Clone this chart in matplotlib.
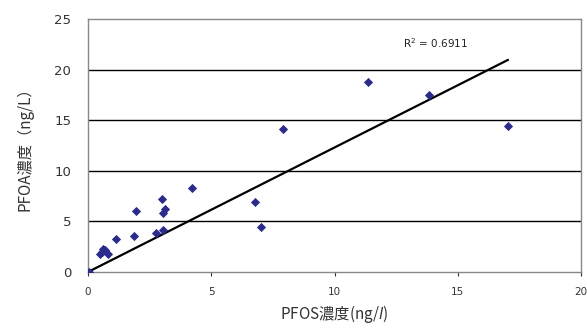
import matplotlib
matplotlib.use("Agg")
import matplotlib.pyplot as plt
import numpy as np

plt.rcParams['font.family'] = ['Noto Sans CJK JP', 'DejaVu Sans']

pfos = [0.05, 0.49, 0.58, 0.62, 0.69, 0.82, 1.14, 1.87, 1.95, 2.75, 3.04, 3.02, 3.03, 3.14,
        4.22, 6.77, 7.03, 7.90, 11.35, 13.85, 17.03]
pfoa = [0.0, 1.78, 2.0, 2.24, 2.17, 1.78, 3.23, 3.56, 6.03, 3.89, 4.15, 7.21, 5.80, 6.19,
        8.33, 6.95, 4.41, 14.16, 18.74, 17.49, 14.43]
trend_x = [0.0, 17.03]
trend_y = [0.0, 20.95]
r2_text = "R$^2$ = 0.6911"
xticks = [0, 5, 10, 15, 20]
yticks = [0, 5, 10, 15, 20, 25]

fig = plt.figure(figsize=(5.87, 3.29), dpi=100)
ax = fig.add_axes([88/587, 1 - 272/329, (581-88)/587, (272-19)/329])
ax.set_xlim(0, 20)
ax.set_ylim(0, 25)
for y in yticks[1:-1]:
    ax.axhline(y, color='black', lw=1.0, zorder=1)
ax.plot(trend_x, trend_y, color='black', lw=1.6, zorder=2)
ax.scatter(pfos, pfoa, marker='D', s=22, color='#2b2b8c', zorder=3, linewidths=0)
ax.text(14.1, 22.6, r2_text, fontsize=7.5, color='#222222', ha='center', va='center',
        family='DejaVu Sans')

for s in ax.spines.values():
    s.set_color('#888888')
    s.set_linewidth(1.0)
ax.set_xticks(xticks)
ax.set_yticks(yticks)
ax.tick_params(axis='x', labelsize=7.5, colors='#333333', length=3, direction='out', pad=8)
ax.tick_params(axis='y', labelsize=9.5, colors='#333333', length=0, pad=12)
for t in ax.get_xticklabels() + ax.get_yticklabels():
    t.set_family('DejaVu Sans')
ax.set_xlabel("PFOS濃度(ng/$\\mathit{l}$)", fontsize=11, color='#333333', labelpad=4)
ax.set_ylabel("PFOA濃度（ng/L）", fontsize=11, color='#333333', labelpad=15)

fig.savefig("out.png", dpi=100)
